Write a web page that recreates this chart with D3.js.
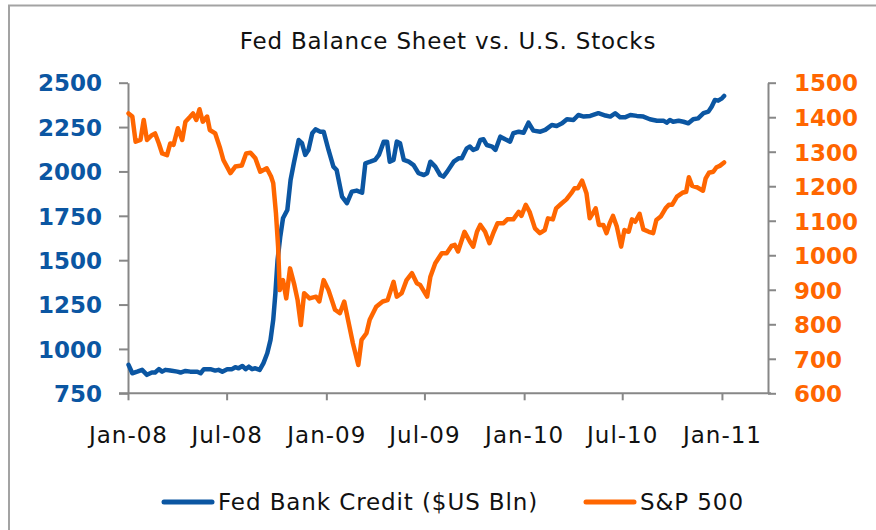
<!DOCTYPE html>
<html>
<head>
  <title>Fed Balance Sheet vs. U.S. Stocks</title>
  <script src="https://d3js.org/d3.v7.min.js"></script>
  <style>
    body { margin: 0; background: #fff; }
    text { font-family: "DejaVu Sans", Verdana, sans-serif; }
  </style>
</head>
<body>
  <svg width="876" height="530"></svg>
  <script>
    // weekly readings
    var fedDates = ["2008-01-02","2008-01-09","2008-01-18","2008-01-27","2008-02-05","2008-02-14","2008-02-20","2008-02-27",
      "2008-03-04","2008-03-10","2008-03-19","2008-04-01","2008-04-07","2008-04-16","2008-04-25","2008-05-08","2008-05-14",
      "2008-05-20","2008-06-01","2008-06-10","2008-06-16","2008-06-23","2008-07-02","2008-07-11","2008-07-17","2008-07-23",
      "2008-07-30","2008-08-05","2008-08-11","2008-08-17","2008-08-23","2008-08-31","2008-09-07","2008-09-14","2008-09-20",
      "2008-09-25","2008-09-29","2008-10-03","2008-10-08","2008-10-13","2008-10-21","2008-10-27","2008-11-02","2008-11-11",
      "2008-11-17","2008-11-23","2008-11-29","2008-12-06","2008-12-12","2008-12-21","2008-12-27","2009-01-05","2009-01-14",
      "2009-01-20","2009-01-30","2009-02-08","2009-02-17","2009-02-26","2009-03-08","2009-03-14","2009-03-23","2009-04-01",
      "2009-04-08","2009-04-17","2009-04-23","2009-04-28","2009-05-05","2009-05-11","2009-05-17","2009-05-24","2009-06-02",
      "2009-06-11","2009-06-20","2009-06-30","2009-07-06","2009-07-12","2009-07-21","2009-07-30","2009-08-05","2009-08-12",
      "2009-08-24","2009-09-02","2009-09-08","2009-09-17","2009-09-23","2009-09-29","2009-10-06","2009-10-12","2009-10-18",
      "2009-10-24","2009-11-03","2009-11-09","2009-11-18","2009-11-27","2009-12-06","2009-12-12","2009-12-22","2009-12-31",
      "2010-01-09","2010-01-18","2010-01-31","2010-02-09","2010-02-21","2010-03-02","2010-03-12","2010-03-21","2010-04-02",
      "2010-04-11","2010-04-21","2010-05-03","2010-05-18","2010-05-31","2010-06-09","2010-06-18","2010-06-27","2010-07-06",
      "2010-07-16","2010-07-28","2010-08-09","2010-08-21","2010-09-03","2010-09-15","2010-09-21","2010-09-27","2010-10-03",
      "2010-10-13","2010-10-22","2010-10-31","2010-11-09","2010-11-18","2010-11-28","2010-12-07","2010-12-13","2010-12-19",
      "2010-12-25","2011-01-01","2011-01-05"];
    var fedValues = [910,863,872,882,854,867,867,886,
      872,882,878,872,867,876,872,872,863,
      886,886,878,882,872,886,886,897,891,
      904,886,900,886,891,882,920,976,1051,
      1164,1314,1501,1633,1736,1783,1952,2046,2177,
      2159,2093,2121,2215,2237,2224,2224,2121,2027,
      2008,1858,1821,1886,1892,1880,2046,2055,2065,
      2093,2168,2168,2055,2065,2168,2159,2065,2055,
      2036,1990,1980,1990,2055,2027,1980,1971,1999,
      2055,2074,2074,2130,2140,2121,2130,2177,2181,
      2149,2140,2121,2196,2181,2168,2215,2224,2218,
      2275,2230,2224,2234,2262,2256,2271,2294,2290,
      2318,2309,2313,2328,2315,2309,2328,2305,2305,
      2318,2313,2309,2294,2286,2286,2275,2290,2280,
      2286,2280,2271,2294,2299,2328,2337,2365,2403,
      2399,2412,2425];

    var spxDates = ["2008-01-02","2008-01-09","2008-01-15","2008-01-24","2008-01-30","2008-02-05","2008-02-14","2008-02-20",
      "2008-02-27","2008-03-04","2008-03-13","2008-03-19","2008-03-25","2008-04-02","2008-04-10","2008-04-16","2008-04-25",
      "2008-04-30","2008-05-06","2008-05-12","2008-05-18","2008-05-26","2008-05-31","2008-06-10","2008-06-19","2008-06-25",
      "2008-07-08","2008-07-17","2008-07-29","2008-08-06","2008-08-14","2008-08-23","2008-09-01","2008-09-13","2008-09-21",
      "2008-09-25","2008-09-30","2008-10-04","2008-10-07","2008-10-13","2008-10-19","2008-10-26","2008-11-03","2008-11-09",
      "2008-11-15","2008-11-21","2008-12-01","2008-12-13","2008-12-19","2008-12-27","2009-01-05","2009-01-17","2009-01-26",
      "2009-02-03","2009-02-10","2009-02-19","2009-03-01","2009-03-07","2009-03-16","2009-03-22","2009-04-03","2009-04-15",
      "2009-04-24","2009-05-05","2009-05-11","2009-05-20","2009-05-29","2009-06-08","2009-06-17","2009-06-23","2009-07-06",
      "2009-07-12","2009-07-21","2009-08-02","2009-08-11","2009-08-20","2009-08-26","2009-09-01","2009-09-13","2009-09-23",
      "2009-09-29","2009-10-06","2009-10-12","2009-10-21","2009-10-29","2009-11-06","2009-11-13","2009-11-24","2009-12-01",
      "2009-12-12","2009-12-22","2009-12-27","2010-01-04","2010-01-11","2010-01-21","2010-01-30","2010-02-08","2010-02-14",
      "2010-02-23","2010-03-01","2010-03-11","2010-03-20","2010-03-29","2010-04-04","2010-04-10","2010-04-18","2010-04-26",
      "2010-05-02","2010-05-08","2010-05-13","2010-05-19","2010-05-27","2010-06-02","2010-06-08","2010-06-14","2010-06-21",
      "2010-06-29","2010-07-05","2010-07-13","2010-07-19","2010-07-25","2010-08-02","2010-08-09","2010-08-19","2010-08-27",
      "2010-09-02","2010-09-10","2010-09-19","2010-09-25","2010-10-01","2010-10-10","2010-10-20","2010-10-27","2010-11-01",
      "2010-11-07","2010-11-16","2010-11-27","2010-12-02","2010-12-08","2010-12-16","2010-12-22","2010-12-28","2011-01-05"];
    var spxValues = [1411,1402,1329,1334,1392,1334,1348,1353,
      1324,1295,1290,1324,1320,1368,1334,1387,1402,
      1411,1392,1423,1387,1402,1363,1353,1310,1276,
      1238,1257,1260,1295,1297,1281,1242,1252,1228,
      1209,1122,1025,899,928,875,962,914,870,
      798,890,875,880,866,928,899,842,832,
      866,813,745,682,755,774,813,851,866,
      870,923,880,890,928,948,919,914,880,
      938,977,1006,1006,1027,1030,1011,1068,1039,
      1025,1068,1088,1068,1035,1068,1093,1093,1104,
      1104,1126,1114,1146,1126,1078,1064,1073,1107,
      1104,1136,1150,1162,1180,1194,1194,1216,1180,
      1107,1122,1136,1088,1088,1064,1093,1114,1083,
      1025,1073,1068,1104,1097,1120,1075,1068,1064,
      1102,1112,1136,1146,1146,1170,1181,1184,1226,
      1201,1197,1187,1223,1239,1242,1255,1259,1269];

    var xTickDates = ["2008-01-01","2008-07-01","2009-01-01","2009-07-01","2010-01-01","2010-07-01","2011-01-01"];
    var leftTicks = [750,1000,1250,1500,1750,2000,2250,2500];
    var rightTicks = [600,700,800,900,1000,1100,1200,1300,1400,1500];
    var seriesNames = ["Fed Bank Credit ($US Bln)", "S&P 500"];

    var blue = "#0b56a2", orange = "#ff6600", grey = "#878787";
    var parse = d3.utcParse("%Y-%m-%d");

    var svg = d3.select("svg"),
        plot = {left: 128, right: 768, top: 82.7, bottom: 393.3};

    var x = d3.scaleUtc()
        .domain([parse("2008-01-01"), parse("2011-03-27")])
        .range([plot.left, plot.right]);
    var yL = d3.scaleLinear().domain([750, 2500]).range([plot.bottom, plot.top]);
    var yR = d3.scaleLinear().domain([600, 1500]).range([plot.bottom, plot.top]);

    var fed = fedDates.map(function(d, i) { return [parse(d), fedValues[i]]; });
    var spx = spxDates.map(function(d, i) { return [parse(d), spxValues[i]]; });

    // outer frame
    svg.append("rect")
        .attr("x", 9).attr("y", 5.5)
        .attr("width", 900).attr("height", 600)
        .attr("fill", "none")
        .attr("stroke", "#a3a3a3")
        .attr("stroke-width", 2);

    svg.append("text")
        .attr("x", 448).attr("y", 48.5)
        .attr("text-anchor", "middle")
        .style("font-size", "23px")
        .style("letter-spacing", "0.8px")
        .attr("fill", "#111")
        .text("Fed Balance Sheet vs. U.S. Stocks");

    var xAxis = svg.append("g")
        .attr("transform", "translate(0," + plot.bottom + ")")
        .call(d3.axisBottom(x)
          .tickValues(xTickDates.map(parse))
          .tickFormat(d3.utcFormat("%b-%y"))
          .tickSize(7).tickSizeOuter(0).tickPadding(26));

    var leftAxis = svg.append("g")
        .attr("transform", "translate(" + plot.left + ",0)")
        .call(d3.axisLeft(yL).tickValues(leftTicks).tickFormat(d3.format("d"))
          .tickSize(9).tickSizeOuter(0).tickPadding(17));

    var rightAxis = svg.append("g")
        .attr("transform", "translate(" + plot.right + ",0)")
        .call(d3.axisRight(yR).tickValues(rightTicks).tickFormat(d3.format("d"))
          .tickSize(8).tickSizeOuter(0).tickPadding(18));

    [xAxis, leftAxis, rightAxis].forEach(function(g) {
      g.selectAll("path, line").attr("stroke", grey).attr("stroke-width", 2);
    });
    xAxis.select(".domain").attr("d", "M" + (plot.left - 9) + ",0H" + (plot.right + 3));
    xAxis.selectAll("text")
        .attr("fill", "#111")
        .style("font-size", "23px")
        .style("letter-spacing", "1px")
        .style("font-family", "'DejaVu Sans', sans-serif");
    leftAxis.selectAll("text")
        .attr("fill", blue)
        .attr("dy", "0.36em")
        .style("font-size", "23px").style("font-weight", "bold")
        .style("font-family", "'DejaVu Sans', sans-serif");
    rightAxis.selectAll("text")
        .attr("fill", orange)
        .attr("dy", "0.36em")
        .style("font-size", "23px").style("font-weight", "bold")
        .style("font-family", "'DejaVu Sans', sans-serif");

    var lineL = d3.line()
        .x(function(d) { return x(d[0]); })
        .y(function(d) { return yL(d[1]); });
    var lineR = d3.line()
        .x(function(d) { return x(d[0]); })
        .y(function(d) { return yR(d[1]); });

    svg.append("path")
        .datum(fed)
        .attr("fill", "none")
        .attr("stroke", blue)
        .attr("stroke-width", 4.5)
        .attr("stroke-linejoin", "round")
        .attr("stroke-linecap", "round")
        .attr("d", lineL);

    svg.append("path")
        .datum(spx)
        .attr("fill", "none")
        .attr("stroke", orange)
        .attr("stroke-width", 4.5)
        .attr("stroke-linejoin", "round")
        .attr("stroke-linecap", "round")
        .attr("d", lineR);

    // legend
    var legendItems = [
      {name: seriesNames[0], color: blue, x: 164},
      {name: seriesNames[1], color: orange, x: 586}
    ];
    var legend = svg.selectAll(".legend")
        .data(legendItems)
        .enter().append("g")
        .attr("class", "legend")
        .attr("transform", function(d) { return "translate(" + d.x + ",502)"; });
    legend.append("line")
        .attr("x1", 0).attr("x2", 48)
        .attr("stroke", function(d) { return d.color; })
        .attr("stroke-width", 5)
        .attr("stroke-linecap", "round");
    legend.append("text")
        .attr("x", 54)
        .attr("dy", "0.36em")
        .style("font-size", "23px")
        .style("letter-spacing", "0.9px")
        .attr("fill", "#111")
        .text(function(d) { return d.name; });
  </script>
</body>
</html>
